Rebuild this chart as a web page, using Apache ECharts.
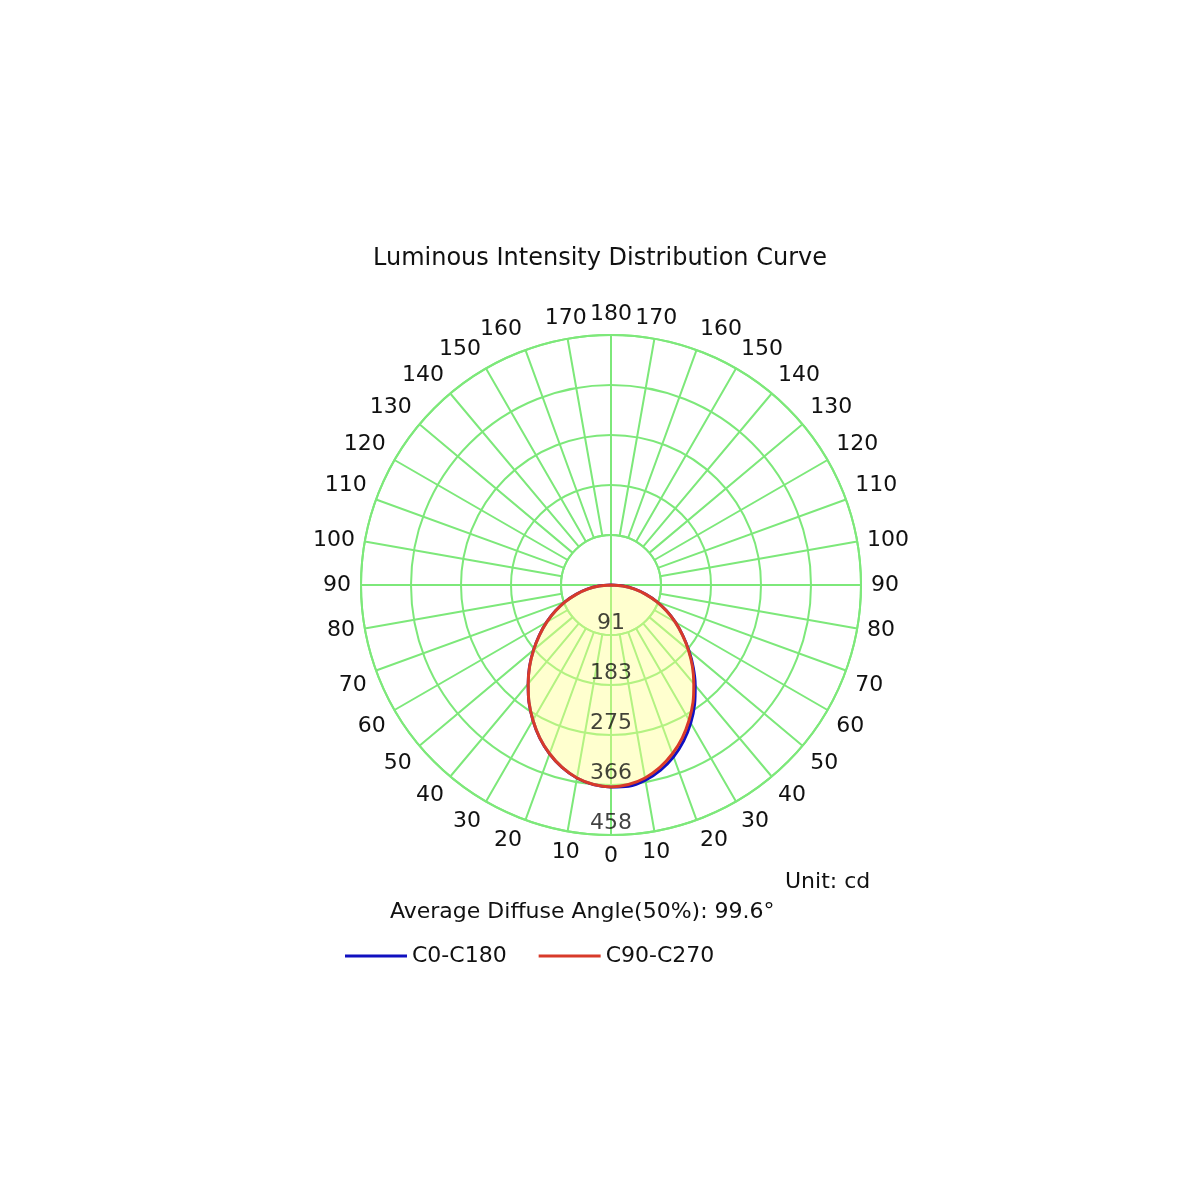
<!DOCTYPE html><html><head><meta charset="utf-8"><script src="https://cdn.jsdelivr.net/npm/echarts@6/dist/echarts.min.js"></script>
<style>html,body{margin:0;background:#fff}#c{width:1200px;height:1200px}</style></head><body><div id="c"></div><script>
const gammaAngles=[0,5,10,15,20,25,30,35,40,45,50,55,60,65,70,75,80,85,90];
const c90c270=[370,367,359,346,329,309,286,262,236,211,185,160,136,112,89,66,44,22,0];
const c0c180Left=[370,367,359,346,329,309,286,262,236,211,185,160,136,112,89,66,44,22,0];
const c0c180Right=[373,370,363,351,335,315,292,267,240,213,186,160,136,112,89,66,44,22,0];
const radiusTicks=['91','183','275','366','458'];
const maxCd=458;
function build(left,right){const pts=[];for(let i=gammaAngles.length-1;i>=0;i--)pts.push([left[i],gammaAngles[i]]);for(let i=1;i<gammaAngles.length;i++)pts.push([right[i],360-gammaAngles[i]]);return pts;}
const F='DejaVu Sans';
const chart=echarts.init(document.getElementById('c'));
const G='#7de87a';
chart.setOption({
 animation:false,
 title:{text:'Luminous Intensity Distribution Curve',left:'center',top:242,textStyle:{fontFamily:F,fontSize:24,fontWeight:'normal',color:'#111'}},
 polar:[{center:[611,585],radius:[50,250]},{center:[611,585],radius:[0,250]}],
 angleAxis:[{polarIndex:0,type:'value',min:0,max:360,interval:10,startAngle:270,clockwise:true,
   axisLine:{show:true,lineStyle:{color:G,width:2}},axisTick:{show:false},
   axisLabel:{fontFamily:F,fontSize:22,color:'#111',margin:10,formatter:v=>v>=360?'':String(v<=180?v:360-v)},
   splitLine:{show:true,lineStyle:{color:G,width:2}}},
  {polarIndex:1,type:'value',min:0,max:360,startAngle:270,show:false}],
 radiusAxis:[{polarIndex:0,type:'value',min:maxCd/5,max:maxCd,interval:maxCd/5,
   axisLine:{show:false},axisTick:{show:false},splitLine:{show:true,lineStyle:{color:G,width:2}},
   axisLabel:{show:false}},
  {polarIndex:1,type:'value',min:0,max:maxCd,show:false}],
 legend:{top:940,left:340,itemWidth:62,itemHeight:3,itemGap:32,icon:'rect',textStyle:{fontFamily:F,fontSize:22,color:'#111'},data:['C0-C180','C90-C270']},
 graphic:[
  {type:'text',left:785,top:871,style:{text:'Unit: cd',font:'22px "DejaVu Sans"',fill:'#111'}},
  {type:'text',left:390,top:901,style:{text:'Average Diffuse Angle(50%): 99.6°',font:'22px "DejaVu Sans"',fill:'#111'}}
 ],
 series:[
  {type:'line',coordinateSystem:'polar',polarIndex:1,data:[[maxCd,0],[0,0],[maxCd,180]],symbol:'none',silent:true,lineStyle:{color:G,width:2},z:1},
  {type:'line',coordinateSystem:'polar',polarIndex:1,data:[[maxCd,90],[0,0],[maxCd,270]],symbol:'none',silent:true,lineStyle:{color:G,width:2},z:1},
  {name:'C0-C180',type:'line',coordinateSystem:'polar',polarIndex:1,data:build(c0c180Left,c0c180Right),smooth:0.3,symbol:'none',color:'#1010c0',lineStyle:{color:'#1010c0',width:3},z:3},
  {name:'C90-C270',type:'line',coordinateSystem:'polar',polarIndex:1,data:build(c90c270,c90c270),smooth:0.3,symbol:'none',color:'#d83a2a',lineStyle:{color:'#d83a2a',width:3},areaStyle:{color:'rgba(255,255,140,0.6)'},z:4},
  {type:'scatter',coordinateSystem:'polar',polarIndex:1,data:radiusTicks.map((t,i)=>[(i+1)*maxCd/5,0,t]),symbolSize:0,silent:true,z:5,
   label:{show:true,position:'top',distance:0,offset:[0,-1],formatter:p=>p.data[2],fontFamily:F,fontSize:22,color:'#111'}}
 ]
});
</script></body></html>
